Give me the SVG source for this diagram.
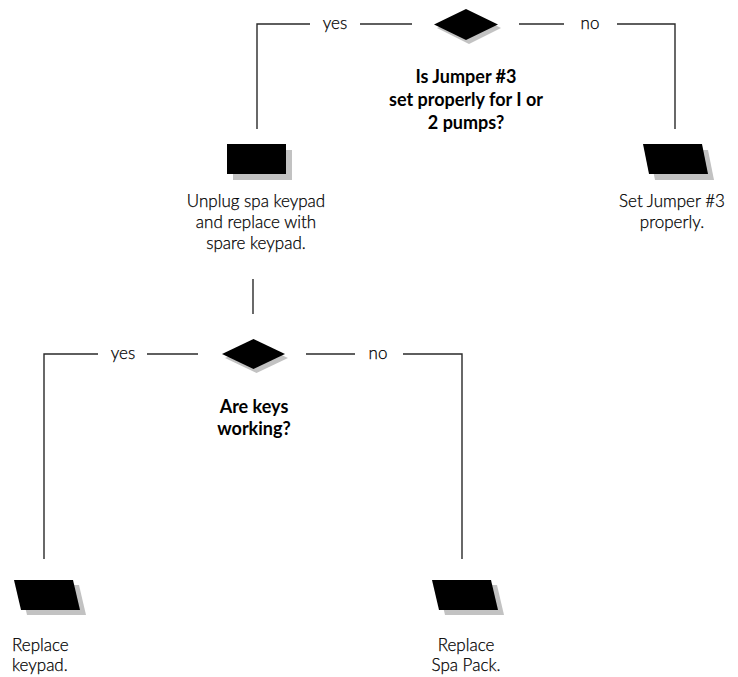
<svg xmlns="http://www.w3.org/2000/svg" width="738" height="677" viewBox="0 0 738 677">
  <style>
    .conn { fill: none; stroke: #2a2a2a; stroke-width: 1.4; }
    .shape { fill: #000; }
    .shadow { fill: #c2c2c2; }
    .t { font-family: Lato, "Liberation Sans", sans-serif; font-weight: 300; font-size: 17px; fill: #000; stroke: #000; stroke-width: 0.25; }
    .q { font-family: Lato, "Liberation Sans", sans-serif; font-weight: 700; font-size: 18px; fill: #000; text-anchor: middle; }
    .c { text-anchor: middle; }
  </style>
  <rect width="738" height="677" fill="#fff"/>
  <g id="connectors">
    <polyline class="conn" points="257,129 257,24 310,24"/>
    <line class="conn" x1="360" y1="24" x2="412" y2="24"/>
    <line class="conn" x1="519" y1="24" x2="564" y2="24"/>
    <polyline class="conn" points="617,24 675,24 675,129"/>
    <line class="conn" x1="253" y1="279" x2="253" y2="314"/>
    <polyline class="conn" points="44,559 44,354 98,354"/>
    <line class="conn" x1="147" y1="354" x2="198" y2="354"/>
    <line class="conn" x1="306" y1="354" x2="355" y2="354"/>
    <polyline class="conn" points="403,354 462,354 462,559"/>
    <text class="t c" x="335" y="29">yes</text>
    <text class="t c" x="590" y="29">no</text>
    <text class="t c" x="123" y="359">yes</text>
    <text class="t c" x="378" y="359">no</text>
  </g>
  <g id="decision1">
    <polygon class="shadow" points="437,28 469,12 501,28 469,44"/>
    <polygon class="shape" points="434,24.5 466,9 498,24.5 466,40"/>
    <text class="q" x="466" y="83">Is Jumper #3</text>
    <text class="q" x="466" y="106">set properly for I or</text>
    <text class="q" x="466" y="129">2 pumps?</text>
  </g>
  <g id="unplug">
    <rect class="shadow" x="233" y="150" width="59" height="30"/>
    <rect class="shape" x="227" y="144" width="59" height="30"/>
    <text class="t c" x="256" y="207">Unplug spa keypad</text>
    <text class="t c" x="256" y="228">and replace with</text>
    <text class="t c" x="256" y="249">spare keypad.</text>
  </g>
  <g id="setjumper">
    <polygon class="shadow" points="649,150 708,150 714,180 655,180"/>
    <polygon class="shape" points="643,144 702,144 708,174 649,174"/>
    <text class="t c" x="672" y="207">Set Jumper #3</text>
    <text class="t c" x="672" y="228">properly.</text>
  </g>
  <g id="decision2">
    <polygon class="shadow" points="225,358 256.5,343 288,358 256.5,373"/>
    <polygon class="shape" points="222,354 253.5,339 285,354 253.5,369"/>
    <text class="q" x="254" y="413">Are keys</text>
    <text class="q" x="254" y="435">working?</text>
  </g>
  <g id="replacekeypad">
    <polygon class="shadow" points="20,585 79,585 86,615 27,615"/>
    <polygon class="shape" points="14,580 73,580 80,610 21,610"/>
    <text class="t" x="12" y="651">Replace</text>
    <text class="t" x="12" y="671">keypad.</text>
  </g>
  <g id="replacespapack">
    <polygon class="shadow" points="438,585 497,585 504,615 445,615"/>
    <polygon class="shape" points="432,580 491,580 498,610 439,610"/>
    <text class="t c" x="466" y="651">Replace</text>
    <text class="t c" x="466" y="671">Spa Pack.</text>
  </g>
</svg>
